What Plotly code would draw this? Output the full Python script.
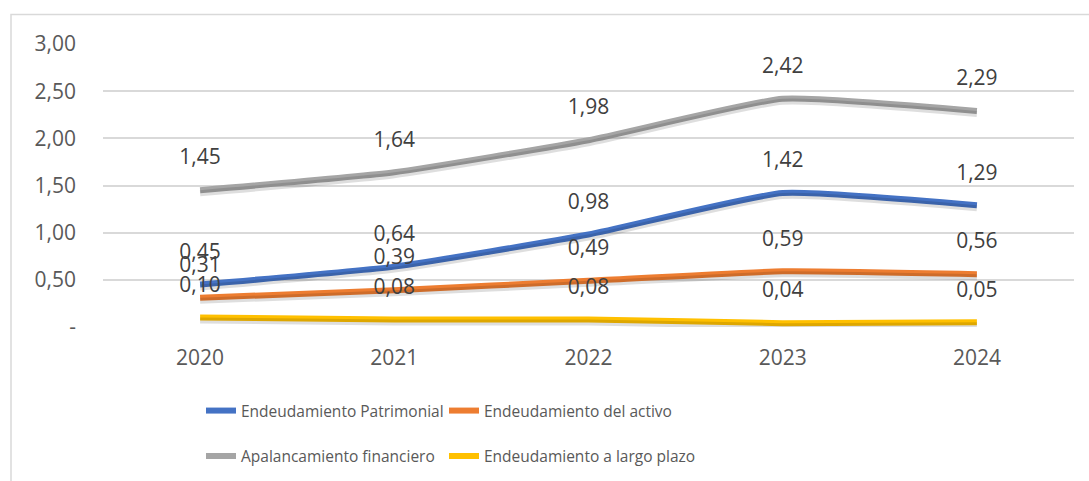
import plotly.graph_objects as go

years = ["2020", "2021", "2022", "2023", "2024"]
endeudamiento_patrimonial = [0.45, 0.64, 0.98, 1.42, 1.29]
endeudamiento_activo = [0.31, 0.39, 0.49, 0.59, 0.56]
apalancamiento_financiero = [1.45, 1.64, 1.98, 2.42, 2.29]
endeudamiento_largo_plazo = [0.10, 0.08, 0.08, 0.04, 0.05]

series_names = ["Endeudamiento Patrimonial", "Endeudamiento del activo",
                "Apalancamiento financiero", "Endeudamiento a largo plazo"]
series_values = [endeudamiento_patrimonial, endeudamiento_activo,
                 apalancamiento_financiero, endeudamiento_largo_plazo]
series_colors = ["#4472C4", "#ED7D31", "#A5A5A5", "#FFC000"]
series_legend = ["legend", "legend2", "legend3", "legend4"]

y_tickvals = [0, 0.5, 1.0, 1.5, 2.0, 2.5, 3.0]
y_ticktext = ["-", "0,50", "1,00", "1,50", "2,00", "2,50", "3,00"]

W, H = 1089, 481
L, R, T, B = 103, 15, 44, 154
plot_w = W - L - R
plot_h = H - T - B

FONT = "Open Sans"
fig = go.Figure()

# soft shadows (same data on an overlaid axis shifted a few pixels down)
shadow_shift = 3.0 * 3 / plot_h
# data labels (same data on an overlaid axis shifted ~31 px up)
label_shift = 3.0 * 31 / plot_h

for vals in series_values:
    fig.add_trace(go.Scatter(
        x=years, y=vals, mode="lines", yaxis="y2", showlegend=False, hoverinfo="skip",
        line=dict(color="rgba(0,0,0,0.13)", width=6, shape="spline", smoothing=0.45),
    ))

for name, vals, col, lg in zip(series_names, series_values, series_colors, series_legend):
    fig.add_trace(go.Scatter(
        x=years, y=vals, mode="lines", name=name, legend=lg,
        line=dict(color=col, width=6, shape="spline", smoothing=0.45),
    ))

for vals in series_values:
    fig.add_trace(go.Scatter(
        x=years, y=vals, mode="text", yaxis="y3", showlegend=False, hoverinfo="skip",
        text=[f"{v:.2f}".replace(".", ",") for v in vals], textposition="middle center",
        textfont=dict(family=FONT, size=21, color="#404040"), cliponaxis=False,
    ))


def legend_box(px_x, px_y):
    return dict(orientation="h", x=(px_x - L) / plot_w, xanchor="left",
                y=(plot_h - (px_y - T)) / plot_h, yanchor="middle",
                font=dict(family=FONT, size=15.5, color="#595959"),
                bgcolor="rgba(0,0,0,0)")


fig.update_layout(
    width=W, height=H,
    margin=dict(l=L, r=R, t=T, b=B, autoexpand=False),
    paper_bgcolor="white", plot_bgcolor="white",
    separators=",.",
    font=dict(family=FONT, size=21, color="#595959"),
    xaxis=dict(type="category", range=[-0.5, 4.5], showgrid=False, zeroline=False,
               showline=False, ticks="", ticklabelstandoff=16, automargin=False,
               tickfont=dict(family=FONT, size=21, color="#595959")),
    yaxis=dict(range=[0, 3], tickvals=y_tickvals, ticktext=y_ticktext,
               showgrid=True, gridcolor="#D9D9D9", gridwidth=1.5, zeroline=False,
               showline=False, ticks="", ticklabelstandoff=26, automargin=False,
               tickfont=dict(family=FONT, size=21, color="#595959")),
    yaxis2=dict(range=[0 + shadow_shift, 3 + shadow_shift], overlaying="y", visible=False),
    yaxis3=dict(range=[0 - label_shift, 3 - label_shift], overlaying="y", visible=False),
    legend=legend_box(201, 411),
    legend2=legend_box(444, 411),
    legend3=legend_box(201, 456.5),
    legend4=legend_box(444, 456.5),
    showlegend=True,
)

# chart frame
fig.add_shape(type="rect", xref="paper", yref="paper",
              x0=(11 - L) / plot_w, x1=(W + 10 - L) / plot_w,
              y0=(plot_h - (H + 10 - T)) / plot_h, y1=(plot_h - (14.5 - T)) / plot_h,
              line=dict(color="#D9D9D9", width=1.5), fillcolor="rgba(0,0,0,0)", layer="below")

fig.write_html("out.html", config={"displayModeBar": False},
               post_script="document.body.style.margin='0';")
